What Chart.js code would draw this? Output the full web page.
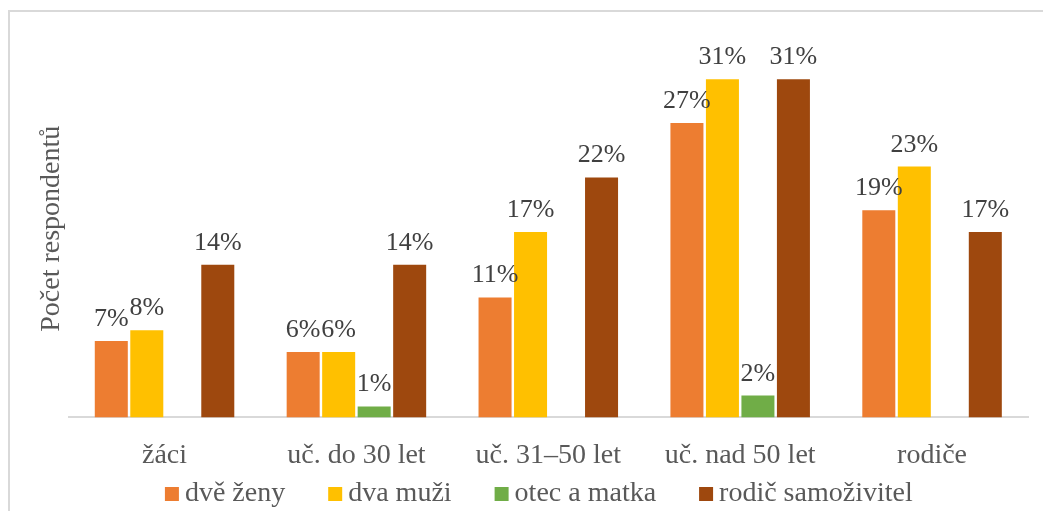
<!DOCTYPE html>
<html>
<head>
<meta charset="utf-8">
<script src="https://cdn.jsdelivr.net/npm/chart.js@4/dist/chart.umd.min.js"></script>
<style>
    html, body { margin: 0; padding: 0; background: #fff; }
    #wrap { position: relative; width: 1043px; height: 511px; overflow: hidden; }
    #frame {
        position: absolute; left: 8px; top: 10px; width: 1100px; height: 600px;
        border: 2px solid #d9d9d9; box-sizing: border-box;
    }
    canvas { position: absolute; left: 0; top: 0; }
</style>
</head>
<body>
<div id="wrap">
    <div id="frame"></div>
    <canvas id="chart" width="1043" height="511"></canvas>
</div>
<script>
const CATEGORIES = ["žáci", "uč. do 30 let", "uč. 31–50 let", "uč. nad 50 let", "rodiče"];
const DVE_ZENY = [7, 6, 11, 27, 19];
const DVA_MUZI = [8, 6, 17, 31, 23];
const OTEC_A_MATKA = [null, 1, null, 2, null];
const RODIC_SAMOZIVITEL = [14, 14, 22, 31, 17];

const COLORS = {
    orange: "#ED7D31",
    yellow: "#FFC000",
    green: "#70AD47",
    brown: "#9E480E",
};

const FONT = "'Liberation Serif', 'Times New Roman', serif";

// popisky hodnot nad sloupci
const valueLabels = {
    id: "valueLabels",
    afterDatasetsDraw(chart) {
        const ctx = chart.ctx;
        ctx.save();
        ctx.font = `26px ${FONT}`;
        ctx.fillStyle = "#404040";
        ctx.textAlign = "center";
        ctx.textBaseline = "alphabetic";
        chart.data.datasets.forEach((ds, i) => {
            const meta = chart.getDatasetMeta(i);
            meta.data.forEach((bar, j) => {
                const v = ds.data[j];
                if (v === null || v === undefined) return;
                ctx.fillText(`${v}%`, bar.x, bar.y - 15);
            });
        });
        ctx.restore();
    },
};

// legenda dole - vlastni kresleni kvuli rozestupum jako v Excelu
const bottomLegend = {
    id: "bottomLegend",
    afterDraw(chart) {
        const ctx = chart.ctx;
        const box = 14;
        const boxGap = 6;
        const itemGap = 43;
        ctx.save();
        ctx.font = `28px ${FONT}`;
        ctx.textBaseline = "middle";
        ctx.textAlign = "left";
        const items = chart.data.datasets.map((ds) => ({
            text: ds.label,
            color: ds.backgroundColor,
            w: ctx.measureText(ds.label).width,
        }));
        const total =
            items.reduce((s, it) => s + box + boxGap + it.w, 0) +
            itemGap * (items.length - 1);
        let x = (chart.chartArea.left + chart.chartArea.right) / 2 - 9.5 - total / 2;
        const y = 494;
        items.forEach((it) => {
            ctx.fillStyle = it.color;
            ctx.fillRect(x, y - 7, box, box);
            ctx.fillStyle = "#595959";
            ctx.fillText(it.text, x + box + boxGap, y);
            x += box + boxGap + it.w + itemGap;
        });
        ctx.restore();
    },
};

const makeSet = (label, data, color) => ({
    label,
    data,
    backgroundColor: color,
    borderWidth: 0,
    categoryPercentage: 0.74,
    barPercentage: 0.93,
});

new Chart(document.getElementById("chart"), {
    type: "bar",
    data: {
        labels: CATEGORIES,
        datasets: [
            makeSet("dvě ženy", DVE_ZENY, COLORS.orange),
            makeSet("dva muži", DVA_MUZI, COLORS.yellow),
            makeSet("otec a matka", OTEC_A_MATKA, COLORS.green),
            makeSet("rodič samoživitel", RODIC_SAMOZIVITEL, COLORS.brown),
        ],
    },
    options: {
        responsive: false,
        animation: false,
        layout: { padding: { top: 40, right: 15, bottom: 26, left: 35 } },
        plugins: {
            tooltip: { enabled: false },
            legend: { display: false },
        },
        scales: {
            x: {
                grid: { display: false },
                border: { color: "#d9d9d9", width: 2 },
                ticks: {
                    font: { family: FONT, size: 28 },
                    color: "#595959",
                    padding: 13,
                },
            },
            y: {
                min: 0,
                max: 34.6,
                grid: { display: false },
                border: { display: false },
                ticks: { display: false },
                title: {
                    display: true,
                    text: "Počet respondentů",
                    font: { family: FONT, size: 28 },
                    color: "#595959",
                    padding: { top: 0, bottom: -8 },
                },
            },
        },
    },
    plugins: [valueLabels, bottomLegend],
});
</script>
</body>
</html>
